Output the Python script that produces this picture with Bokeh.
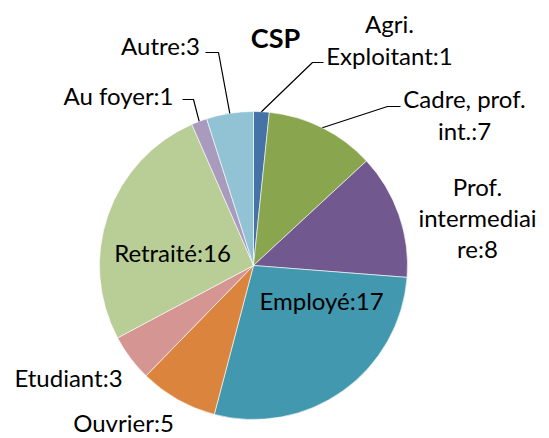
import numpy as np
from bokeh.plotting import figure
from bokeh.models import ColumnDataSource, Range1d
from bokeh.embed import file_html
from bokeh.resources import INLINE
from bokeh.core.properties import value

# ---- data ----
title = "CSP"
categories = ["Agri. Exploitant", "Cadre, prof. int.", "Prof. intermediaire", "Employé",
              "Ouvrier", "Etudiant", "Retraité", "Au foyer", "Autre"]
values = [1, 7, 8, 17, 5, 3, 16, 1, 3]
colors = ["#4572A7", "#89A54E", "#71588F", "#4198AF", "#DB843D",
          "#D49593", "#B9CD96", "#A99BBD", "#92C3D5"]

# ---- layout (page pixels) ----
W, H = 549, 438
def fx(px): return px
def fy(py): return H - py

cx, cy, R = fx(253), fy(265), 154
FONT = "Lato"
FS = 24
wrap_width = [12, 12, 11, None, None, None, None, None, None]
label_pos = [(389, 39), (464, 114), (477, 217), (321, 300), (123, 422),
             (68, 377), (172, 252), (118, 95), (160, 45)]
# leader line: (end near label, elbow) in page px, None = no leader
leaders = [((323, 62), (312, 62)), ((400, 106), (387, 106)), None, None, None, None, None,
           ((182, 99), (193, 99)), ((205, 52), (218, 52))]


def wrap(text, width):
    if width is None:
        return text
    lines, cur = [], ""
    for word in text.split(" "):
        cand = word if not cur else cur + " " + word
        if len(cand) <= width:
            cur = cand
        else:
            if cur:
                lines.append(cur)
            cur = word
            while len(cur) > width:
                lines.append(cur[:width])
                cur = cur[width:]
    if cur:
        lines.append(cur)
    return "\n".join(lines)


total = sum(values)
cum = np.concatenate([[0], np.cumsum(values)])
start = np.pi / 2 - cum[:-1] / total * 2 * np.pi
end = np.pi / 2 - cum[1:] / total * 2 * np.pi
mid = (start + end) / 2

src = ColumnDataSource(dict(start=start, end=end, color=colors))

p = figure(width=W, height=H, x_range=Range1d(0, W), y_range=Range1d(0, H),
           output_backend="svg", toolbar_location=None, min_border=0)
p.axis.visible = False
p.grid.visible = False
p.outline_line_color = None
p.background_fill_color = "white"

p.wedge(x=cx, y=cy, radius=R, start_angle="start", end_angle="end", direction="clock",
        fill_color="color", line_color="white", line_width=0.6, source=src)

# leader lines
xs, ys = [], []
for i, ld in enumerate(leaders):
    if ld is None:
        continue
    (ex, ey), (bx, by) = ld
    px0 = cx + R * np.cos(mid[i])
    py0 = cy + R * np.sin(mid[i])
    xs.append([px0, fx(bx), fx(ex)])
    ys.append([py0, fy(by), fy(ey)])
p.multi_line(xs=xs, ys=ys, line_color="black", line_width=1.2)

labels = [wrap(f"{c}:{v}", w) for c, v, w in zip(categories, values, wrap_width)]
lsrc = ColumnDataSource(dict(x=[fx(a) for a, b in label_pos], y=[fy(b) for a, b in label_pos],
                             text=labels))
p.text(x="x", y="y", text="text", source=lsrc, text_align="center", text_baseline="middle",
       text_font=value(FONT), text_font_size=f"{FS}px", text_color="black", text_line_height=1.08)

p.text(x=[fx(275)], y=[fy(37)], text=[title], text_align="center", text_baseline="middle",
       text_font=value(FONT), text_font_size="27px", text_font_style="bold", text_color="black")

open("out.html", "w").write(file_html(p, INLINE))
